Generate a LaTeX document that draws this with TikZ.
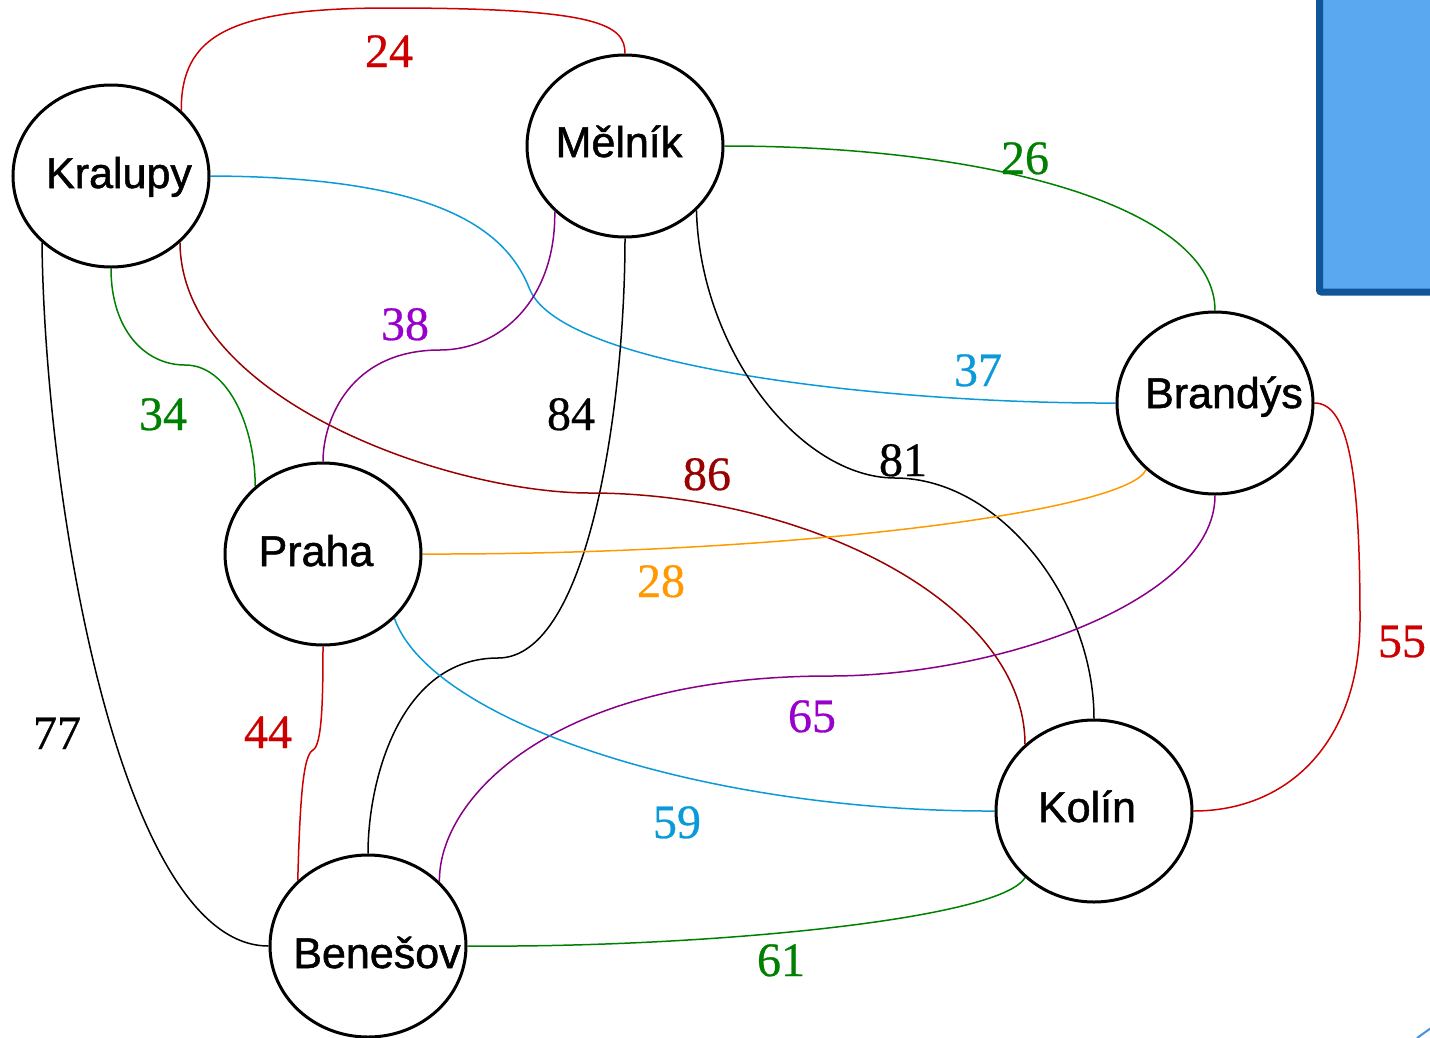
\documentclass[tikz,border=0pt]{standalone}
\usepackage{fontspec}
\setmainfont{Liberation Serif}[FakeBold=0.6]
\newfontfamily\citysans{Liberation Sans}[FakeBold=1.2]
\newfontfamily\labelserif{Liberation Serif}[FakeBold=0.6]
\usetikzlibrary{shapes.geometric}
\definecolor{cred}{HTML}{CC0000}
\definecolor{cdred}{HTML}{990000}
\definecolor{cgreen}{HTML}{008000}
\definecolor{cblue}{HTML}{0B9AD9}
\definecolor{cpurp}{HTML}{880088}
\definecolor{cpurpl}{HTML}{9900CC}
\definecolor{corange}{HTML}{FF9900}
\definecolor{rectfill}{HTML}{5AA9F0}
\definecolor{rectdraw}{HTML}{0F5598}
\definecolor{linkblue}{HTML}{4A90E2}
\pgfdeclarelayer{bg}
\pgfsetlayers{bg,main}
\begin{document}
\begin{tikzpicture}[x=1pt,y=-1pt,
  city/.style={ellipse,draw=black,fill=white,line width=3pt,minimum width=196pt,minimum height=182pt,inner sep=0pt},
  cityname/.style={anchor=base,inner sep=0pt,font=\citysans\fontsize{43}{50}\selectfont},
  wlabel/.style={anchor=base,inner sep=0pt,font=\labelserif\fontsize{48}{56}\selectfont},
  e/.style={line width=1.5pt}]
\useasboundingbox (0,0) rectangle (1430,1037);
\clip (0,0) rectangle (1430,1037);
% decorative shapes at the margin
\draw[fill=rectfill,draw=rectdraw,line width=7pt,rounded corners=2pt] (1319.5,-20) rectangle (1460,292);
\draw[linkblue,line width=2pt] (1417,1038) -- (1445,1018);
% cities
\node[city] (Kr) at (111,176) {};
\node[city] (Me) at (625,146) {};
\node[city] (Br) at (1215,403) {};
\node[city] (Pr) at (323,554) {};
\node[city] (Ko) at (1094,811) {};
\node[city] (Be) at (368,946) {};
\node[cityname] (tKr) at (119,188) {Kralupy};
\node[cityname] (tMe) at (619,157) {Mělník};
\node[cityname] (tBr) at (1224,408) {Brandýs};
\node[cityname] (tPr) at (316,566) {Praha};
\node[cityname] (tKo) at (1087,822) {Kolín};
\node[cityname] (tBe) at (377,968) {Benešov};
% roads
\begin{pgfonlayer}{bg}
\draw[e,cred] (Kr.43) .. controls (181,35) and (230,8) .. (390,8) .. controls (600,8) and (625,25) .. (Me.north);
\draw[e,cgreen] (Me.east) .. controls (1000,146) and (1215,210) .. (Br.north);
\draw[e,cblue] (Kr.east) .. controls (430,177) and (505,225) .. (530,290) .. controls (565,370) and (900,404) .. (Br.west);
\draw[e,cpurp] (Me.223) .. controls (556,300) and (500,350) .. (440,350) .. controls (350,350) and (323,420) .. (Pr.north);
\draw[e,cgreen] (Kr.south) .. controls (111,330) and (145,365) .. (185,365) .. controls (230,365) and (255,430) .. (Pr.135);
\draw[e,black] (Me.south) .. controls (625,400) and (590,658) .. (498,658) .. controls (400,658) and (368,780) .. (Be.north);
\draw[e,black] (Me.318) .. controls (700,350) and (800,478) .. (895,478) .. controls (1000,478) and (1094,600) .. (Ko.north);
\draw[e,cdred] (Kr.-44) .. controls (181,400) and (450,493) .. (590,493) .. controls (800,493) and (1025,600) .. (Ko.136);
\draw[e,corange] (Br.224) .. controls (1130,510) and (800,555) .. (Pr.east);
\draw[e,cpurp] (Br.south) .. controls (1215,600) and (1000,676) .. (830,676) .. controls (550,676) and (438,800) .. (Be.42);
\draw[e,cblue] (Pr.-42) .. controls (430,720) and (700,812) .. (Ko.west);
\draw[e,cred] (Pr.south) .. controls (323,700) and (322,745) .. (313,750) .. controls (303,755) and (300,800) .. (Be.137);
\draw[e,black] (Kr.224) .. controls (45,500) and (120,946) .. (Be.west);
\draw[e,cgreen] (Ko.224) .. controls (1000,920) and (700,948) .. (Be.east);
\draw[e,cred] (Br.east) .. controls (1350,403) and (1360,480) .. (1360,620) .. controls (1360,740) and (1290,811) .. (Ko.east);
\end{pgfonlayer}
% distances
\node[wlabel,cred] (l24) at (389,67) {24};
\node[wlabel,cgreen] (l26) at (1025,174) {26};
\node[wlabel,cpurpl] (l38) at (405,340) {38};
\node[wlabel,cgreen] (l34) at (163,430) {34};
\node[wlabel,cblue] (l37) at (978,386) {37};
\node[wlabel,black] (l84) at (571,430) {84};
\node[wlabel,black] (l81) at (903,476) {81};
\node[wlabel,cdred] (l86) at (707,490) {86};
\node[wlabel,corange] (l28) at (661,597) {28};
\node[wlabel,cpurpl] (l65) at (812,732) {65};
\node[wlabel,cblue] (l59) at (677,838) {59};
\node[wlabel,cred] (l44) at (268,748) {44};
\node[wlabel,black] (l77) at (57,749) {77};
\node[wlabel,cgreen] (l61) at (781,976) {61};
\node[wlabel,cred] (l55) at (1402,657) {55};
\end{tikzpicture}
\end{document}
